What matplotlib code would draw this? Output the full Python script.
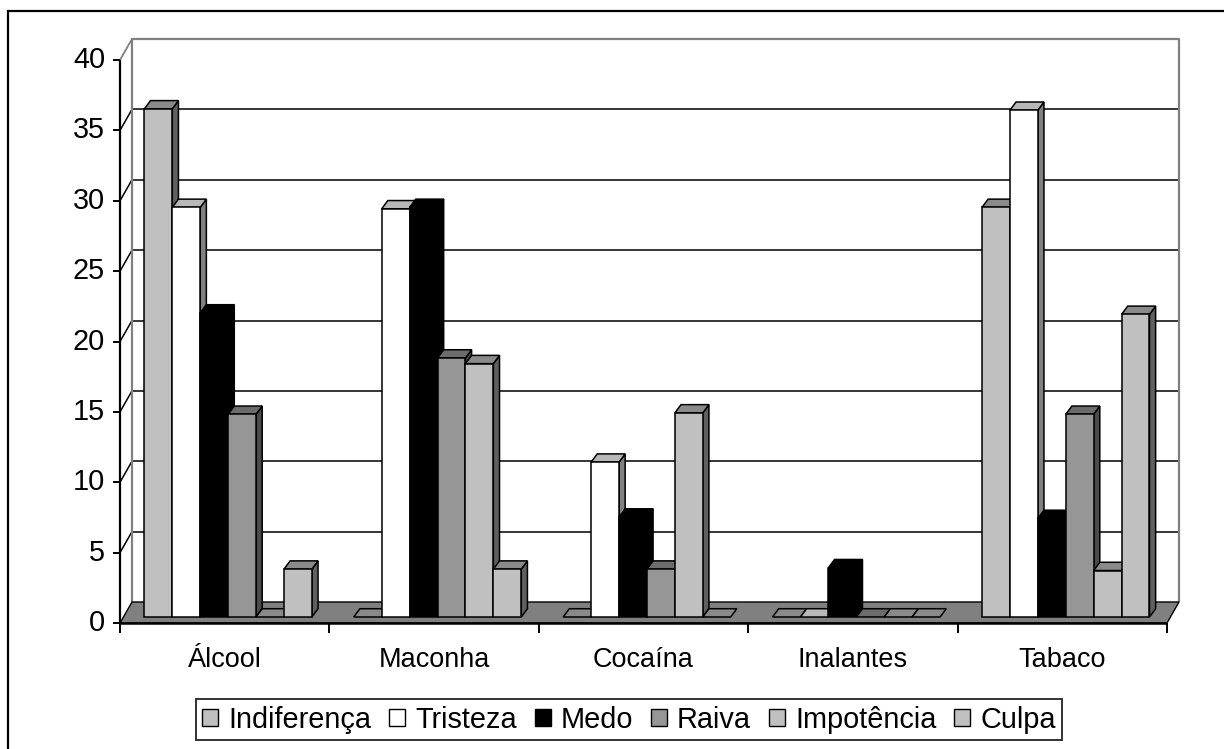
import matplotlib
matplotlib.use("Agg")
import matplotlib.pyplot as plt
from matplotlib.patches import Polygon, Patch, Rectangle
from matplotlib.lines import Line2D
from matplotlib.colors import to_rgb

plt.rcParams['font.family'] = ['Liberation Sans', 'DejaVu Sans']

# --- data -------------------------------------------------------------
categories = ['Álcool', 'Maconha', 'Cocaína', 'Inalantes', 'Tabaco']
series_names = ['Indiferença', 'Tristeza', 'Medo', 'Raiva', 'Impotência', 'Culpa']
indiferenca = [36.1, 0.0, 0.0, 0.0, 29.1]
tristeza = [29.1, 29.0, 11.0, 0.0, 36.0]
medo = [21.6, 29.1, 7.1, 3.5, 7.0]
raiva = [14.4, 18.4, 3.4, 0.0, 14.4]
impotencia = [0.0, 18.0, 14.5, 0.0, 3.3]
culpa = [3.4, 3.4, 0.0, 0.0, 21.5]
series_values = [indiferenca, tristeza, medo, raiva, impotencia, culpa]
y_ticks = [0, 5, 10, 15, 20, 25, 30, 35, 40]

# --- style ------------------------------------------------------------
colors = ['#C0C0C0', '#FFFFFF', '#000000', '#969696', '#C0C0C0', '#C0C0C0']
TOP_SHADE, SIDE_SHADE = 0.72, 0.5
FLOOR_COLOR = '#808080'
WALL_EDGE = '#808080'
FS_TICK = 20.8
FS_CAT = 19.5
FS_LEG = 20.8

W, H, DPI = 1224, 749, 100
fig = plt.figure(figsize=(W / DPI, H / DPI), dpi=DPI)
fig.patch.set_facecolor('white')

# front plane of the plot area (pixels)
px_left, px_right, px_bottom, px_top = 120, 1167, 623, 60
ax = fig.add_axes([px_left / W, 1 - px_bottom / H,
                   (px_right - px_left) / W, (px_bottom - px_top) / H])
n_cat = len(categories)
ymax = y_ticks[-1]
ax.set_xlim(0, n_cat)
ax.set_ylim(0, ymax)
ax.axis('off')

# depth of the 3D box, in pixels, converted to data units
px_per_x = (px_right - px_left) / n_cat
px_per_y = (px_bottom - px_top) / ymax
depth_px = (12, 21)
Dx, Dy = depth_px[0] / px_per_x, depth_px[1] / px_per_y
bar_d0, bar_d1 = 0.286, 0.68   # bar front / back as fraction of the depth


def shade(c, f):
    r, g, b = to_rgb(c)
    return (r * f, g * f, b * f)


def poly(pts, fc, ec='black', lw=1.1, z=3):
    ax.add_patch(Polygon(pts, closed=True, facecolor=fc, edgecolor=ec,
                         linewidth=lw, zorder=z, clip_on=False,
                         joinstyle='miter'))


def line(xs, ys, c='black', lw=1.1, z=2):
    ax.add_line(Line2D(xs, ys, color=c, linewidth=lw, zorder=z,
                       clip_on=False, solid_capstyle='butt'))


# back wall
poly([(Dx, Dy), (n_cat + Dx, Dy), (n_cat + Dx, ymax + Dy), (Dx, ymax + Dy)],
     'white', ec='none', z=0)
for v in y_ticks[1:-1]:
    line([Dx, n_cat + Dx], [v + Dy, v + Dy], z=1)
    line([0, Dx], [v, v + Dy], z=1)
line([Dx, Dx, n_cat + Dx, n_cat + Dx], [Dy, ymax + Dy, ymax + Dy, Dy],
     c=WALL_EDGE, lw=1.6, z=1)
line([0, Dx], [ymax, ymax + Dy], c=WALL_EDGE, lw=1.3, z=1)

# floor
poly([(0, 0), (n_cat, 0), (n_cat + Dx, Dy), (Dx, Dy)], FLOOR_COLOR,
     ec='black', lw=1.0, z=1.5)

# value axis on the front plane
tick_len_x = 7 / px_per_x
line([0, 0], [0, ymax], lw=1.6, z=5)
for v in y_ticks:
    line([-tick_len_x, 0], [v, v], lw=1.4, z=5)
    ax.annotate(str(v), xy=(0, v), xytext=(-15, 0), textcoords='offset pixels',
                ha='right', va='center', fontsize=FS_TICK, annotation_clip=False)

# category axis
tick_len_y = 10 / px_per_y
line([0, n_cat], [0, 0], lw=1.8, z=5)
for i in range(n_cat + 1):
    line([i, i], [0, -tick_len_y], lw=1.4, z=5)
for i, cat in enumerate(categories):
    ax.annotate(cat, xy=(i + 0.5, 0), xytext=(0, -24), textcoords='offset pixels',
                ha='center', va='top', fontsize=FS_CAT, annotation_clip=False)

# bars
n_ser = len(series_names)
gap_ratio = 1.5
bw = 1.0 / (n_ser + gap_ratio)
gap = gap_ratio * bw / 2
ox0, oy0 = bar_d0 * Dx, bar_d0 * Dy
ox1, oy1 = bar_d1 * Dx, bar_d1 * Dy
side_dx = 1.3 * (ox1 - ox0)   # side faces read a little wider than the top depth
for i in range(n_cat):
    for j in range(n_ser):
        v = series_values[j][i]
        c = colors[j]
        xl = i + gap + j * bw
        xr = xl + bw
        z = 3 + 0.01 * (i * n_ser + j)
        if v > 0:
            # right side face
            poly([(xr + ox0, oy0), (xr + ox0 + side_dx, oy1),
                  (xr + ox0 + side_dx, v + oy1), (xr + ox0, v + oy0)],
                 shade(c, SIDE_SHADE), z=z)
        # top face
        poly([(xl + ox0, v + oy0), (xr + ox0, v + oy0),
              (xr + ox0 + side_dx, v + oy1), (xl + ox0 + side_dx, v + oy1)],
             shade(c, TOP_SHADE), z=z)
        if v > 0:
            # front face
            poly([(xl + ox0, oy0), (xr + ox0, oy0), (xr + ox0, v + oy0),
                  (xl + ox0, v + oy0)], c, z=z)

# legend
handles = [Patch(facecolor=c, edgecolor='black', linewidth=1.0) for c in colors]
leg = fig.legend(handles, series_names, loc='center',
                 bbox_to_anchor=(629 / W, 1 - 719.5 / H), ncol=n_ser,
                 fontsize=FS_LEG, frameon=True, fancybox=False, shadow=False,
                 handlelength=0.55, handleheight=0.55, handletextpad=0.35,
                 columnspacing=0.62, borderpad=0.22, borderaxespad=0)
leg.get_frame().set_edgecolor('black')
leg.get_frame().set_linewidth(1.4)

# outer chart border
fig.patches.append(Rectangle((8 / W, -0.1), 1.2, 1.1 - 11 / H,
                             transform=fig.transFigure, fill=False,
                             edgecolor='black', linewidth=1.6))

fig.savefig('out.png', dpi=DPI)
